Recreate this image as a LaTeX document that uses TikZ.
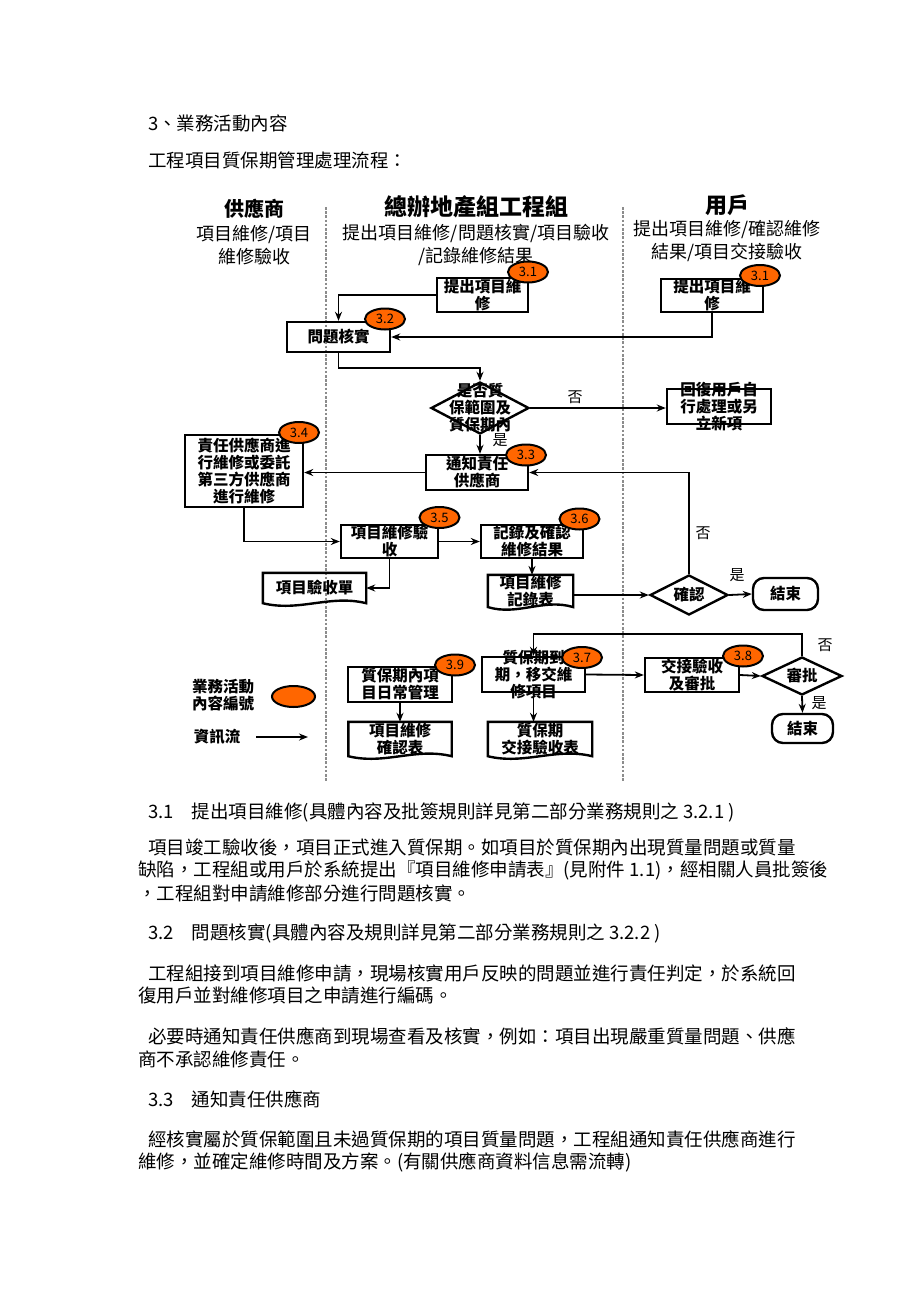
\documentclass[tikz,border=0pt]{standalone}
\usepackage{fontspec}
\setmainfont{Noto Sans CJK TC}
\usetikzlibrary{positioning}
\usetikzlibrary{calc}
\usetikzlibrary{arrows.meta}
\usetikzlibrary{shapes.geometric}

\definecolor{badgeorange}{RGB}{255,102,0}
\definecolor{lanegray}{RGB}{140,140,140}

\newcommand\boxfont{\bfseries\fontsize{15.5}{17}\selectfont}
\newcommand\badgefont{\fontsize{13}{13}\selectfont}
\newcommand\bodyfont{\fontsize{18.5}{23}\selectfont}
\newcommand\lanefont{\fontsize{18}{23}\selectfont}

\begin{document}
\begin{tikzpicture}[x=1pt, y=-1pt
  , box/.style={draw, line width=2.4pt, inner sep=0pt, align=center, font=\boxfont}
  , doc/.style={inner sep=0pt, align=center, font=\boxfont}
  , decision/.style={draw, diamond, line width=2.4pt, inner sep=0pt}
  , terminal/.style={box, rounded corners=11pt}
  , badge/.style={draw, ellipse, fill=badgeorange, line width=2pt
                 , minimum width=40pt, minimum height=21pt, inner sep=0pt, font=\badgefont}
  , flow/.style={-{Stealth[length=9pt, width=7pt]}, line width=1.8pt}
  , lane/.style={lanegray, line width=2.8pt, dash pattern=on 2.6pt off 1.6pt}
  , yesno/.style={font=\fontsize{15}{15}\selectfont}
  , body/.style={anchor=west, inner sep=0pt, font=\bodyfont}
  ]

  \useasboundingbox[fill=white] (0,0) rectangle (920,1302);

  \node[body] (sect) at (148,123) {3、業務活動內容};
  \node[body] (title) at (148,160) {工程項目質保期管理處理流程：};

  % swimlanes
  \draw[lane] (326,207) -- (326,782);
  \draw[lane] (623,207) -- (623,782);

  \node[font=\bfseries\fontsize{20}{20}\selectfont] (suphead) at (254,209) {供應商};
  \node[font=\lanefont, align=center] (supdesc) at (254,245) {項目維修/項目\\維修驗收};
  \node[font=\bfseries\fontsize{23}{23}\selectfont] (enghead) at (476,207) {總辦地產組工程組};
  \node[font=\lanefont, align=center] (engdesc) at (476,245) {提出項目維修/問題核實/項目驗收\\/記錄維修結果};
  \node[font=\bfseries\fontsize{22}{22}\selectfont] (userhead) at (727,205) {用戶};
  \node[font=\lanefont, align=center] (userdesc) at (727,241) {提出項目維修/確認維修\\結果/項目交接驗收};

  % upper flow
  \node[box, minimum width=91pt, minimum height=34pt] (raiseE) at (482.5,295) {提出項目維\\修};
  \node[box, minimum width=102pt, minimum height=33pt] (raiseU) at (712,295.5) {提出項目維\\修};
  \node[box, minimum width=103pt, minimum height=30pt] (verify) at (338.5,337) {問題核實};
  \node[decision, minimum width=98pt, minimum height=52pt
       , label={[doc]center:是否質\\保範圍及\\質保期內}] (scope) at (480,408) {};
  \node[box, minimum width=104pt, minimum height=35pt
       , label={[doc]center:回復用戶自\\行處理或另\\立新項}] (reply) at (719,406.5) {};
  \node[box, minimum width=102pt, minimum height=35pt] (notify) at (477,472.5) {通知責任\\供應商};
  \node[box, minimum width=118pt, minimum height=72pt] (repair) at (244,471) {責任供應商進\\行維修或委託\\第三方供應商\\進行維修};
  \node[box, minimum width=97pt, minimum height=33pt] (accept) at (389.5,541.5) {項目維修驗\\收};
  \node[box, minimum width=102pt, minimum height=33pt] (record) at (532,541.5) {記錄及確認\\維修結果};
  \node[doc, minimum width=103pt, minimum height=30pt] (slip) at (314.5,588) {項目驗收單};
  \node[doc, minimum width=85pt, minimum height=31pt] (log) at (530.5,591) {項目維修\\記錄表};
  \node[decision, minimum width=78pt, minimum height=40pt, label={[doc]center:確認}] (confirm) at (689,595) {};
  \node[terminal, minimum width=65pt, minimum height=32pt] (end1) at (785.5,594) {結束};

  % lower flow
  \node[box, minimum width=104pt, minimum height=35pt] (daily) at (400,684.5) {質保期內項\\目日常管理};
  \node[doc, minimum width=103pt, minimum height=34pt] (conf) at (400,739) {項目維修\\確認表};
  \node[box, minimum width=103pt, minimum height=35pt
       , label={[doc]center:質保期到\\期，移交維\\修項目}] (expire) at (533.5,674.5) {};
  \node[doc, minimum width=104pt, minimum height=34pt] (handover) at (540,739) {質保期\\交接驗收表};
  \node[box, minimum width=94pt, minimum height=34pt] (approve) at (692,675) {交接驗收\\及審批};
  \node[decision, minimum width=80pt, minimum height=38pt, label={[doc]center:審批}] (sign) at (802,676) {};
  \node[terminal, minimum width=61pt, minimum height=29pt] (end2) at (802.5,728.5) {結束};

  \foreach \d in {slip, log, conf, handover}
    \draw[line width=2.4pt] (\d.south west) -- (\d.north west) -- (\d.north east) -- (\d.south east)
      .. controls ($(\d.south east)!0.35!(\d.south west)+(0,-9)$)
             and ($(\d.south east)!0.65!(\d.south west)+(0,9)$) .. (\d.south west) -- cycle;

  % activity numbers
  \node[badge] (n31E) at (528,272) {3.1};
  \node[badge] (n31U) at (760,275.5) {3.1};
  \node[badge] (n32) at (385,319) {3.2};
  \node[badge] (n33) at (526,455) {3.3};
  \node[badge] (n34) at (299,432.5) {3.4};
  \node[badge] (n35) at (439.5,517.5) {3.5};
  \node[badge] (n36) at (579.5,519) {3.6};
  \node[badge] (n37) at (582,657.5) {3.7};
  \node[badge] (n38) at (743,656) {3.8};
  \node[badge] (n39) at (455,665) {3.9};

  \draw[flow] (raiseE.west) -| (verify.north);
  \draw[flow] (raiseU.south) |- (verify.east);
  \draw[flow] (verify.south) -- ++(0,15) -| (scope.north);
  \draw[flow] (scope.east) -- (scope.east -| reply.west);
  \draw[flow] (scope.south) -- (scope.south |- notify.north);
  \draw[flow] (notify.west) -- (notify.west -| repair.east);
  \draw[flow] (repair.south) |- (accept.west);
  \draw[flow] (accept.east) -- (record.west);
  \draw[flow] (accept.south) |- (slip.east);
  \draw[flow] (record.south) -- (record.south |- log.north);
  \draw[flow] (confirm.west -| log.east) -- (confirm.west);
  \draw[flow] (confirm.north) |- (notify.east);
  \draw[flow] (confirm.east) -- (end1.west);
  \draw[flow] (daily.south) -- (conf.north);
  \draw[flow] (expire.south) -- (expire.south |- handover.north);
  \draw[flow] (expire.east) -- (approve.west);
  \draw[flow] (approve.east) -- (sign.west);
  \draw[flow] (sign.north) -- ++(0,-22) -| (expire.north);
  \draw[flow] (sign.south) -- (end2.north);

  \node[yesno] (noScope) at (575,397) {否};
  \node[yesno] (yesScope) at (500,440) {是};
  \node[yesno] (noConfirm) at (703,533) {否};
  \node[yesno] (yesConfirm) at (737,575) {是};
  \node[yesno] (noSign) at (825,645) {否};
  \node[yesno] (yesSign) at (819,703) {是};

  % legend
  \node[font=\boxfont, align=center] (legtext) at (223,695) {業務活動\\內容編號};
  \node[badge, minimum width=43pt] (legdot) at (293.5,696.5) {};
  \node[font=\boxfont] (legflow) at (217,737) {資訊流};
  \coordinate (legA) at (256,737);
  \coordinate (legB) at (308,737);
  \draw[flow] (legA) -- (legB);

  % text below the chart
  \node[body] (p1) at (148,812) {3.1\hspace{18pt}提出項目維修(具體內容及批簽規則詳見第二部分業務規則之 3.2.1 )};
  \node[body] (p2) at (148,847) {項目竣工驗收後，項目正式進入質保期。如項目於質保期內出現質量問題或質量};
  \node[body] (p3) at (138,870) {缺陷，工程組或用戶於系統提出『項目維修申請表』(見附件 1.1)，經相關人員批簽後};
  \node[body] (p4) at (138,893) {，工程組對申請維修部分進行問題核實。};
  \node[body] (p5) at (148,933) {3.2\hspace{18pt}問題核實(具體內容及規則詳見第二部分業務規則之 3.2.2 )};
  \node[body] (p6) at (148,973) {工程組接到項目維修申請，現場核實用戶反映的問題並進行責任判定，於系統回};
  \node[body] (p7) at (138,996) {復用戶並對維修項目之申請進行編碼。};
  \node[body] (p8) at (148,1036) {必要時通知責任供應商到現場查看及核實，例如：項目出現嚴重質量問題、供應};
  \node[body] (p9) at (138,1059) {商不承認維修責任。};
  \node[body] (p10) at (148,1099) {3.3\hspace{18pt}通知責任供應商};
  \node[body] (p11) at (148,1139) {經核實屬於質保範圍且未過質保期的項目質量問題，工程組通知責任供應商進行};
  \node[body] (p12) at (138,1162) {維修，並確定維修時間及方案。(有關供應商資料信息需流轉)};

\end{tikzpicture}
\end{document}
